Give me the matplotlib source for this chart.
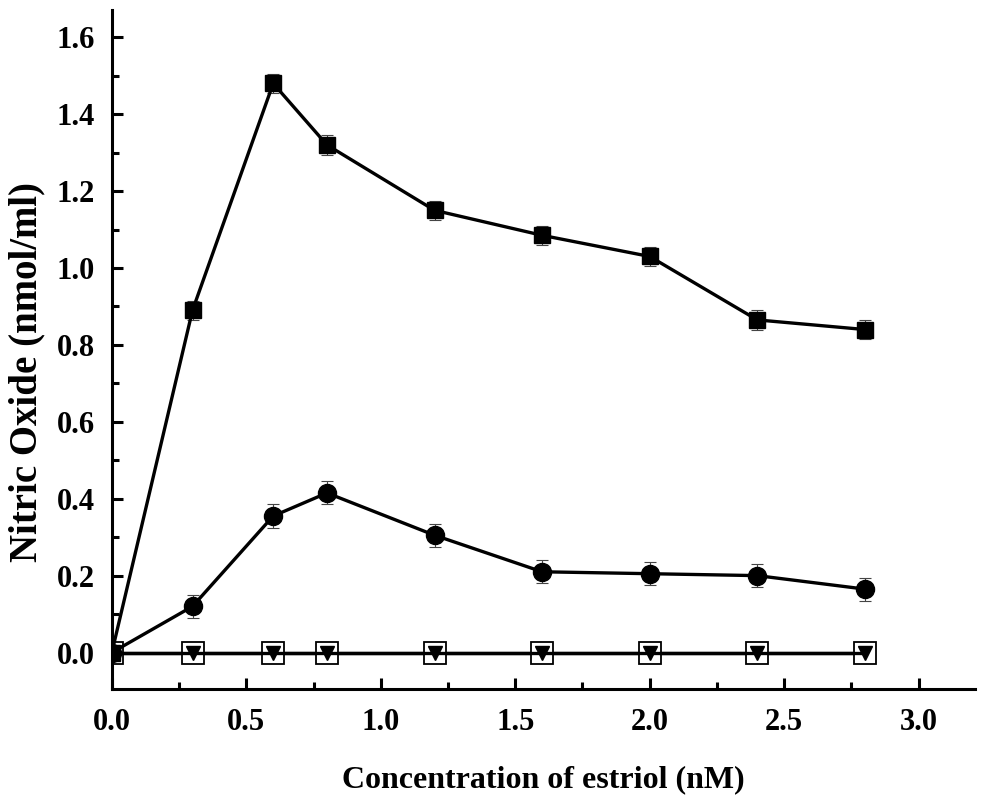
import matplotlib
matplotlib.use("Agg")
import matplotlib.pyplot as plt
from matplotlib.ticker import MultipleLocator

x = [0, 0.3, 0.6, 0.8, 1.2, 1.6, 2.0, 2.4, 2.8]
sq_y = [0, 0.89, 1.48, 1.32, 1.15, 1.085, 1.03, 0.865, 0.84]
sq_err = [0, 0.025, 0.025, 0.025, 0.025, 0.025, 0.025, 0.025, 0.025]
ci_y = [0, 0.12, 0.355, 0.415, 0.305, 0.21, 0.205, 0.2, 0.165]
ci_err = [0, 0.03, 0.03, 0.03, 0.03, 0.03, 0.03, 0.03, 0.03]
open_y = [0, 0, 0, 0, 0, 0, 0, 0, 0]
tri_y = [0, 0, 0, 0, 0, 0, 0, 0, 0]
xtick_vals = [0, 0.5, 1.0, 1.5, 2.0, 2.5, 3.0]
xtick_labels = ['0.0', '0.5', '1.0', '1.5', '2.0', '2.5', '3.0']
ytick_vals = [0, 0.2, 0.4, 0.6, 0.8, 1.0, 1.2, 1.4, 1.6]
ytick_labels = ['0.0', '0.2', '0.4', '0.6', '0.8', '1.0', '1.2', '1.4', '1.6']

plt.rcParams['font.family'] = ['Liberation Serif', 'DejaVu Serif']
plt.rcParams['font.weight'] = 'bold'

fig = plt.figure(figsize=(9.81, 7.98), dpi=100)
ax = fig.add_axes([0.114, 0.137, 0.88, 0.85])

ax.plot(x, open_y, color='black', lw=2.4, marker='s', ms=16, mfc='white', mec='black', mew=1.3, zorder=2)
ax.plot(x, tri_y, color='black', lw=2.4, marker='v', ms=10, mfc='black', mec='black', zorder=3)
ax.errorbar(x, ci_y, yerr=ci_err, color='black', lw=2.4, marker='o', ms=13, capsize=4.5, elinewidth=0.8, capthick=0.8, ecolor='#444444', zorder=4)
ax.errorbar(x, sq_y, yerr=sq_err, color='black', lw=2.4, marker='s', ms=11, capsize=4.5, elinewidth=0.8, capthick=0.8, ecolor='#444444', zorder=4)

ax.set_xlim(0, 3.21)
ax.set_ylim(-0.094, 1.67)
ax.set_xticks(xtick_vals)
ax.set_xticklabels(xtick_labels)
ax.set_yticks(ytick_vals)
ax.set_yticklabels(ytick_labels)
ax.xaxis.set_minor_locator(MultipleLocator(0.25))
ax.yaxis.set_minor_locator(MultipleLocator(0.1))

for s in ['top', 'right']:
    ax.spines[s].set_visible(False)
for s in ['left', 'bottom']:
    ax.spines[s].set_linewidth(2.2)

ax.tick_params(which='major', direction='in', length=8, width=2.2, labelsize=22, pad=12)
ax.tick_params(axis='x', which='major', pad=14)
ax.tick_params(which='minor', direction='in', length=5, width=2.2)
for lab in ax.get_xticklabels() + ax.get_yticklabels():
    lab.set_fontweight('bold')

ax.set_xlabel('Concentration of estriol (nM)', fontsize=23, fontweight='bold', labelpad=20)
ax.set_ylabel('Nitric Oxide (nmol/ml)', fontsize=28, fontweight='bold')
ax.yaxis.set_label_coords(-0.077, 0.467)

fig.savefig('out.png', dpi=100)
